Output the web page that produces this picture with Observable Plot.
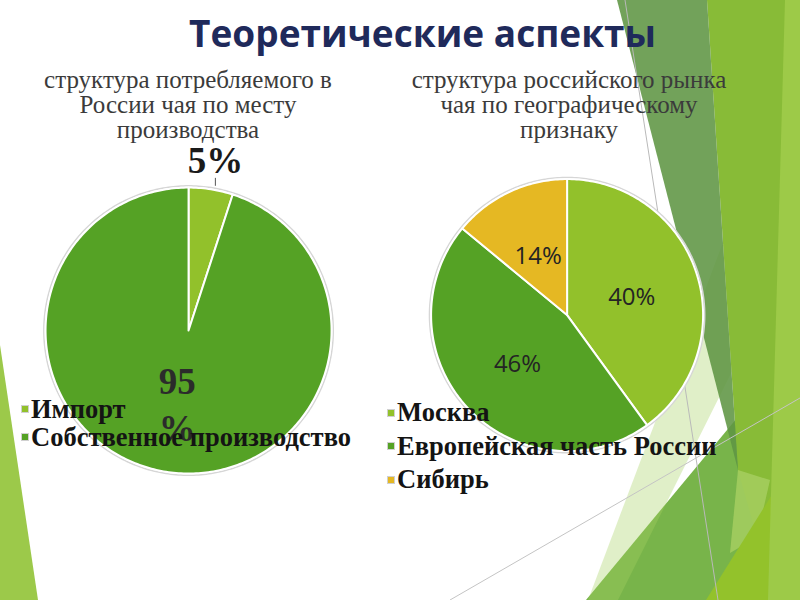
<!DOCTYPE html>
<html><head><meta charset="utf-8">
<script src="https://cdn.jsdelivr.net/npm/d3@7"></script>
<script src="https://cdn.jsdelivr.net/npm/@observablehq/plot@0.6"></script>
<style>
body{margin:0;background:#fff;}
#page{position:relative;width:800px;height:600px;overflow:hidden;font-family:"Liberation Serif",serif;background:#fff;}
.abs{position:absolute;}
#decor{left:0;top:0;}
#title{left:0;width:845px;top:7px;text-align:center;font-family:"Open Sans";font-weight:bold;font-size:37px;color:#1f2a5b;white-space:nowrap;}
.ctitle{font-size:25px;line-height:25px;text-align:center;color:#3b3b3b;white-space:nowrap;}
.legend{font-weight:bold;font-size:26.5px;color:#141414;white-space:nowrap;}
.legend .row{display:flex;align-items:center;}
.sw{width:6px;height:6px;border:1px solid #d0d0d0;margin-right:2px;flex:none;}
svg{overflow:visible;}
</style></head>
<body>
<div id="page">
  <svg id="decor" class="abs" width="800" height="600">
    <polygon points="0,345 38,600 0,600" fill="#9cc94a"/>
    <polygon points="586,600 800,342 800,600" fill="#78b44a"/>
    <polygon points="588,600 618,600 795,245 722,245" fill="#a6d162" fill-opacity="0.35"/>
    <polygon points="707,0 792,0 775,600 738,470" fill="#88bb37"/>
    <polygon points="738,470 770,480 757,537 730,553" fill="#a8d062" fill-opacity="0.8"/>
    <polygon points="617,0 707,0 738,470" fill="#5f9543" fill-opacity="0.88"/>
    <polygon points="706,600 800,450 800,600" fill="#93c22b"/>
    <polygon points="785,0 800,0 800,600 768,600" fill="#9dca48"/>
    <line x1="625" y1="0" x2="718" y2="600" stroke="#b9b9b9" stroke-width="1"/>
    <line x1="450" y1="600" x2="800" y2="398" stroke="#c4c4c4" stroke-width="1"/>
  </svg>
  <div id="title" class="abs">Теоретические аспекты</div>
  <div id="lt" class="abs ctitle"></div>
  <div id="rt" class="abs ctitle"></div>
  <div id="lp" class="abs"></div>
  <div id="rp" class="abs"></div>
  <div id="ll" class="abs legend"></div>
  <div id="rl" class="abs legend"></div>
</div>
<script>
// ---- data ----
const leftTitle = ["структура потребляемого в", "России чая по месту", "производства"];
const leftCats = ["Импорт", "Собственное производство"];
const leftVals = [5, 95];
const rightTitle = ["структура российского рынка", "чая по географическому", "признаку"];
const rightCats = ["Москва", "Европейская часть России", "Сибирь"];
const rightVals = [40, 46, 14];
const leftColors = ["#92c12b", "#55a225"];
const rightColors = ["#92c12b", "#55a225", "#e5b823"];

function slices(cats, vals) {
  const total = d3.sum(vals);
  let acc = 0;
  return cats.map((c, i) => {
    const a0 = acc / total * 2 * Math.PI;
    acc += vals[i];
    const a1 = acc / total * 2 * Math.PI;
    return {cat: c, value: vals[i], pct: Math.round(vals[i] / total * 100), a0, a1, mid: (a0 + a1) / 2};
  });
}
function slicePoints(sl) {
  const pts = [];
  for (const s of sl) {
    pts.push({cat: s.cat, x: 0, y: 0});
    const n = Math.max(2, Math.ceil((s.a1 - s.a0) / (Math.PI / 180)));
    for (let j = 0; j <= n; j++) {
      const t = s.a0 + (s.a1 - s.a0) * j / n;
      pts.push({cat: s.cat, x: Math.sin(t), y: Math.cos(t)});
    }
    pts.push({cat: s.cat, x: 0, y: 0});
  }
  return pts;
}
function circle(r) {
  return d3.range(0, 361).map(i => ({x: r * Math.sin(i * Math.PI / 180), y: r * Math.cos(i * Math.PI / 180)}));
}
const D = 1.35;
function pie(cats, vals, colors, R, extraMarks) {
  const sl = slices(cats, vals);
  const size = 2 * D * R;
  return Plot.plot({
    width: size, height: size, margin: 0,
    x: {domain: [-D, D], axis: null},
    y: {domain: [-D, D], axis: null},
    color: {domain: cats, range: colors},
    marks: [
      Plot.line(circle(1.012), {x: "x", y: "y", stroke: "#d6d6d6", strokeWidth: 1.5}),
      Plot.line(slicePoints(sl), {x: "x", y: "y", z: "cat", fill: "cat", stroke: "white", strokeWidth: 2, strokeLinejoin: "round"}),
      ...extraMarks(sl)
    ]
  });
}

// left pie
const RL = 143;
const lp = pie(leftCats, leftVals, leftColors, RL, sl => {
  const small = sl[0], big = sl[1];
  const lx = 1.2 * Math.sin(small.mid);
  return [
    Plot.line([{x: lx, y: 1.015}, {x: lx, y: 1.065}], {x: "x", y: "y", stroke: "#555", strokeWidth: 1}),
    Plot.text([small], {x: d => 1.2 * Math.sin(d.mid), y: d => 1.2 * Math.cos(d.mid), text: d => d.pct + "%",
      fontSize: 37, fontWeight: "bold", fontFamily: "Liberation Serif", fill: "#1a1a1a"}),
    Plot.text([big], {x: d => 0.51 * Math.sin(d.mid), y: d => 0.51 * Math.cos(d.mid), text: d => d.pct + "\n%",
      lineHeight: 1.27, fontSize: 37, fontWeight: "bold", fontFamily: "Liberation Serif", fill: "#2b2b2b"})
  ];
});
const lpEl = document.getElementById("lp");
lpEl.style.left = (188 - D * RL) + "px";
lpEl.style.top = (330 - D * RL) + "px";
lpEl.appendChild(lp);

// right pie
const RR = 136;
const rp = pie(rightCats, rightVals, rightColors, RR, sl => [
  Plot.text(sl, {x: d => 0.5 * Math.sin(d.mid), y: d => 0.5 * Math.cos(d.mid), text: d => d.pct + "%", dy: 3,
    fontSize: 24, fontWeight: 500, fontFamily: "Open Sans", fill: "#242424"})
]);
const rpEl = document.getElementById("rp");
rpEl.style.left = (567 - D * RR) + "px";
rpEl.style.top = (315 - D * RR) + "px";
rpEl.appendChild(rp);

// chart titles
const lt = document.getElementById("lt");
lt.innerHTML = leftTitle.join("<br>");
lt.style.left = (188 - 200) + "px"; lt.style.width = "400px"; lt.style.top = "67px";
const rt = document.getElementById("rt");
rt.innerHTML = rightTitle.join("<br>");
rt.style.left = (569 - 200) + "px"; rt.style.width = "400px"; rt.style.top = "67px";

// legends
function legend(el, cats, colors, lh) {
  el.innerHTML = cats.map((c, i) =>
    `<div class="row" style="height:${lh}px"><span class="sw" style="background:${colors[i]}"></span><span>${c}</span></div>`).join("");
}
const ll = document.getElementById("ll");
legend(ll, leftCats, leftColors, 28);
ll.style.left = "21px"; ll.style.top = "395px";
const rl = document.getElementById("rl");
legend(rl, rightCats, rightColors, 33.5);
rl.style.left = "387px"; rl.style.top = "396px";
</script>
</body></html>
